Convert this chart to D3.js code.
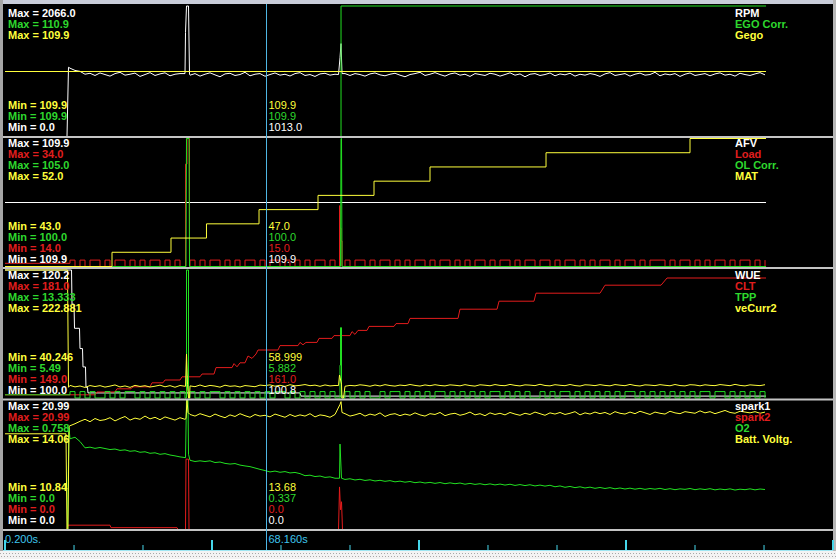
<!DOCTYPE html>
<html><head><meta charset="utf-8">
<script src="https://cdn.jsdelivr.net/npm/d3@7"></script>
<style>html,body{margin:0;padding:0;background:#000;overflow:hidden}</style>
</head><body><svg id="c" width="836" height="559"></svg>
<script>
// ---------------- DATA ----------------
const T0 = 0.2, DT = 1.3019;            // log start (s) and sample period (s)
const axisEnd = 215.79;                  // time at right edge of the view
const tickTimes = [0.2, 18.17, 36.13, 54.10, 72.06, 90.03, 108.0, 125.96, 143.93, 161.89, 179.86, 197.83, 215.79];
const cursorTime = 68.16;
const startLabel = "0.200s.", cursorLabel = "68.160s";

const seriesNames = [["RPM","EGO Corr.","Gego"],["AFV","Load","OL Corr.","MAT"],["WUE","CLT","TPP","veCurr2"],["spark1","spark2","O2","Batt. Voltg."]];
const seriesMin = [[0,109.9,109.9],[109.9,14,100,43],[100,149,5.49,40.246],[0,0,0,10.84]];
const seriesMax = [[2066,110.9,109.9],[109.9,34,105,52],[120.2,181,13.333,222.881],[20.99,20.99,0.758,14.06]];
const maxText = [["2066.0","110.9","109.9"],["109.9","34.0","105.0","52.0"],["120.2","181.0","13.333","222.881"],["20.99","20.99","0.758","14.06"]];
const minText = [["0.0","109.9","109.9"],["109.9","14.0","100.0","43.0"],["100.0","149.0","5.49","40.246"],["0.0","0.0","0.0","10.84"]];
const cursorText = [["1013.0","109.9","109.9"],["109.9","15.0","100.0","47.0"],["100.8","161.0","5.882","58.999"],["0.0","0.0","0.337","13.68"]];

// Panel 1
const rpm = [
0,0,0,0,0,0,0,0,0,0,
0,0,0,1085,1050,1035,990,1005,970,1010,
985,960,1000,1020,975,990,1008,955,985,1015,
970,995,1012,965,990,1000,1000,975,1000,960,
990,1012,980,950,995,1005,970,985,1020,965,
990,1000,958,985,1010,975,990,962,1000,1015,
970,985,955,995,1005,975,990,1250,1000,970,
1000,985,960,995,1010,980,965,990,1005,975,
950,985,1000,1020,970,990,1015,985,960,995,
1010,975,990,955,1000,985,970,1005,990,960,
985,1012,975,995,950,990,1000,970,985,1010,
965,995,980,1005,960,990,975,1000,985,955,
995,1015,970,985,1000,960,990,1008,975,985,
1020,965,995,980,1000,955,990,1010,970,985,
1000,965,995,1012,975,990,960,1005,985,970,
995,1015,980];
const rpmEvents = [[16.34,0],[16.73,1100],[47.20,1650],[47.46,2066],[47.98,2066],[48.24,990],[87.04,985],[87.69,1473],[87.95,1000]];
const egoCorrPts = [[0.2,109.9],[87.69,110.9],[198.35,110.9]];
const gegoPts = [[0.2,109.9],[198.35,109.9]];

// Panel 2
const afvPts = [[0.2,109.9],[198.35,109.9]];
const load = [
14.5,14.5,14.5,14.5,14.5,14.5,14.5,14.5,14.5,14.5,
14.5,14.5,14.5,15,14,15,14,15,15,14,
15,14,15,15,14,15,14,15,14,15,
15,14,15,14,15,14,14,15,14,15,
14,15,15,14,15,14,15,14,15,15,
14,15,14,15,15,14,15,14,15,14,
15,14,15,15,14,15,14,20,15,14,
15,15,14,15,14,15,15,14,15,14,
15,14,15,15,14,15,14,15,15,14,
15,14,15,14,15,15,14,15,14,15,
15,14,15,14,15,15,14,15,15,14,
15,14,15,15,14,15,14,15,14,15,
15,14,15,14,15,15,14,15,14,15,
15,15,14,15,14,15,15,14,15,14,
15,14,15,15,14,15,14,15,15,14,
15,14,15];
const loadEvents = [[47.20,30],[47.59,34],[48.11,34],[48.24,14],[87.04,14],[87.30,23.5],[87.69,18],[87.95,14]];
const olCorrPts = [[0.2,100],[47.33,100],[47.46,105],[48.11,105],[48.24,100],[87.56,100],[87.69,105],[87.82,105],[87.95,100],[198.35,100]];
const matPts = [[0.2,43],[28.06,44],[43.42,45],[52.66,46],[66.34,47],[81.70,48],[96.28,49],[110.86,50],[141.07,51],[178.56,52],[198.35,52]];

// Panel 3
const wuePts = [[0.2,120.2],[17.52,120.2],[17.65,114.8],[18.17,114.8],[18.30,111.0],[19.60,111.0],[19.73,107.8],[20.38,107.8],[20.51,104.9],[21.16,104.9],[21.29,101.7],[21.68,101.7],[21.81,100.8],[77.01,100.8],[77.27,100.3],[198.35,100.3]];
const cltPts = [[0.2,149.8],[23.63,149.8],[24.15,150.5],[28.84,150.5],[29.36,151.3],[33.01,151.3],[33.53,151.8],[37.96,151.8],[38.48,152.8],[41.34,152.8],[41.86,153.5],[45.77,153.5],[46.29,154.3],[50.97,154.3],[51.50,155.0],[54.62,155.0],[55.14,156.6],[59.31,156.6],[59.83,157.6],[60.61,156.8],[61.39,157.8],[62.69,157.8],[63.47,159.5],[64.51,158.9],[65.56,160.0],[66.08,161],[71.28,161],[71.80,162.1],[76.49,162.1],[77.01,162.9],[77.79,162.3],[78.57,162.9],[81.44,162.9],[81.96,163.9],[85.34,163.9],[85.86,164.6],[90.03,164.6],[90.55,165.6],[91.33,164.9],[92.11,165.9],[94.46,165.9],[94.98,166.9],[101.49,166.9],[102.01,167.6],[105.13,167.6],[105.65,168.9],[118.15,168.9],[118.67,171.2],[128.31,171.2],[128.83,173.2],[137.94,173.2],[138.46,175.2],[155.13,175.2],[156.43,177.2],[171.01,177.2],[172.57,179.0],[198.35,179.0]];
const tpp = [
5.686,5.686,5.686,5.686,5.686,5.686,5.686,5.686,5.686,5.686,
5.686,5.686,5.686,5.882,5.49,5.882,5.49,5.882,5.49,5.49,
5.882,5.49,5.882,5.49,5.882,5.882,5.49,5.882,5.49,5.882,
5.49,5.882,5.49,5.882,5.49,5.882,5.49,5.882,5.49,5.882,
5.49,5.882,5.882,5.49,5.882,5.49,5.882,5.49,5.882,5.49,
5.882,5.49,5.882,5.49,5.882,5.882,5.49,5.882,5.49,5.882,
5.49,5.882,5.49,5.882,5.49,5.882,5.49,7.5,5.882,5.49,
5.882,5.49,5.882,5.49,5.49,5.882,5.49,5.882,5.882,5.49,
5.882,5.49,5.882,5.49,5.882,5.49,5.882,5.882,5.49,5.882,
5.49,5.882,5.49,5.882,5.49,5.882,5.49,5.882,5.882,5.49,
5.882,5.49,5.882,5.49,5.882,5.49,5.49,5.882,5.49,5.882,
5.49,5.882,5.882,5.49,5.882,5.49,5.882,5.49,5.882,5.49,
5.882,5.49,5.882,5.49,5.882,5.882,5.49,5.882,5.49,5.882,
5.49,5.882,5.49,5.882,5.49,5.882,5.49,5.882,5.49,5.882,
5.882,5.49,5.882,5.882,5.49,5.882,5.49,5.882,5.49,5.882,
5.49,5.882,5.49];
const tppEvents = [[47.33,5.49],[47.46,13.333],[47.85,13.333],[47.98,5.49],[87.30,5.49],[87.56,9.8],[87.82,5.49]];
const veCurr2 = [
222.881,222.881,222.881,222.881,222.881,222.881,222.881,222.881,222.881,222.881,
222.881,222.881,222.881,58.2,56.1,57.4,55.3,58.0,56.6,57.9,
55.8,57.2,58.9,56.0,57.5,55.4,58.3,56.7,57.8,55.9,
57.1,58.6,56.2,57.9,55.6,58.1,57.0,57.5,56.4,58.8,
56.5,58.2,57.3,55.7,58.5,56.9,57.6,55.9,58.0,57.2,
56.3,58.7,57.9,59.0,57.1,58.4,56.8,59.2,57.6,58.3,
59.4,57.8,58.6,56.9,58.9,57.5,58.1,70.0,57.0,58.2,
57.6,59.1,58.3,57.0,58.8,57.4,59.3,58.0,57.2,58.7,
57.9,59.5,58.2,57.3,58.9,57.8,59.2,58.1,57.5,59.0,
58.4,57.6,59.3,58.0,57.2,59.1,58.5,57.7,59.4,58.2,
57.8,59.6,58.3,57.5,59.0,58.6,57.9,59.8,58.1,57.6,
59.2,58.4,57.8,59.5,58.0,57.3,59.1,58.7,57.9,59.3,
58.2,57.6,59.4,58.5,57.8,59.6,58.1,57.4,59.0,58.6,
57.9,59.3,58.4,57.7,59.5,58.0,57.5,59.2,58.8,57.6,
59.1,58.3,57.9,59.4,58.6,57.8,59.7,58.2,57.5,59.0,
58.4,57.9,59.2];
const veCurr2Events = [[16.47,222.881],[16.73,55.5],[47.20,57],[47.46,103],[47.72,60],[47.98,40.246],[48.24,40.246],[87.04,58],[87.30,73],[87.82,60],[87.95,40.246],[88.34,40.246]];

// Panel 4
const spark1Pts = [[0.2,0],[198.35,0]];
const spark2Pts = [[0.2,0],[16.34,0],[16.60,0.7],[27.54,0.7],[27.80,0.3],[44.99,0.3],[45.25,0],[47.20,0],[47.33,11.4],[47.98,11.4],[48.11,0],[87.04,0],[87.30,6.9],[87.56,3.2],[87.82,4.5],[88.08,0],[198.35,0]];
const o2 = [
0,0,0,0,0,0,0,0,0,0,
0,0,0,0.531,0.540,0.515,0.478,0.482,0.475,0.480,
0.474,0.468,0.471,0.463,0.466,0.458,0.461,0.452,0.455,0.446,
0.449,0.440,0.444,0.436,0.431,0.425,0.421,0.405,0.398,0.402,
0.398,0.402,0.392,0.395,0.387,0.383,0.386,0.377,0.372,0.368,
0.360,0.352,0.345,0.337,0.342,0.335,0.339,0.331,0.334,0.327,
0.315,0.318,0.310,0.313,0.305,0.308,0.300,0.500,0.293,0.297,
0.290,0.294,0.287,0.291,0.284,0.288,0.282,0.286,0.279,0.283,
0.277,0.281,0.274,0.278,0.272,0.276,0.270,0.275,0.268,0.273,
0.268,0.272,0.265,0.270,0.264,0.268,0.262,0.267,0.261,0.266,
0.260,0.265,0.258,0.263,0.257,0.262,0.255,0.260,0.254,0.259,
0.250,0.255,0.247,0.252,0.245,0.250,0.243,0.248,0.241,0.246,
0.240,0.245,0.238,0.243,0.237,0.242,0.236,0.241,0.235,0.240,
0.236,0.241,0.234,0.239,0.233,0.238,0.235,0.240,0.233,0.238,
0.234,0.239,0.232,0.237,0.233,0.238,0.231,0.236,0.233,0.238,
0.232,0.237,0.234];
const o2Events = [[16.47,0],[16.86,0.597],[47.20,0.42],[47.46,0.758],[47.85,0.758],[47.98,0.44],[87.30,0.30],[87.82,0.30]];
const batt = [
13.22,13.22,13.22,13.22,13.22,13.22,13.22,13.22,13.22,13.22,
13.22,13.22,13.22,13.42,13.47,13.53,13.58,13.52,13.60,13.55,
13.57,13.62,13.54,13.60,13.65,13.56,13.61,13.58,13.66,13.59,
13.63,13.57,13.64,13.60,13.56,13.62,13.58,13.70,13.66,13.72,
13.68,13.64,13.71,13.66,13.62,13.69,13.65,13.72,13.67,13.63,
13.70,13.66,13.68,13.64,13.71,13.67,13.63,13.70,13.65,13.69,
13.66,13.72,13.64,13.69,13.67,13.63,13.70,13.95,13.72,13.66,
13.69,13.73,13.66,13.71,13.68,13.74,13.65,13.70,13.72,13.67,
13.71,13.68,13.74,13.69,13.66,13.72,13.70,13.75,13.67,13.71,
13.73,13.68,13.71,13.76,13.69,13.72,13.67,13.74,13.70,13.73,
13.69,13.75,13.71,13.68,13.73,13.70,13.76,13.72,13.68,13.74,
13.71,13.75,13.70,13.73,13.77,13.69,13.74,13.71,13.76,13.72,
13.75,13.70,13.77,13.73,13.71,13.76,13.72,13.78,13.74,13.70,
13.76,13.73,13.71,13.78,13.74,13.72,13.77,13.75,13.73,13.79,
13.74,13.77,13.72,13.76,13.80,13.75,13.73,13.78,13.76,13.74,
13.77,13.73,13.76];
const battEvents = [[16.08,13.22],[16.34,10.84],[16.60,10.84],[16.86,13.40],[47.33,13.6],[47.59,14.06],[47.85,13.75],[87.69,14.02],[87.95,13.75]];

// ---------------- BUILD ----------------
function sampled(values, events) {
  const pts = values.map((v, i) => [T0 + i * DT, v]).concat(events);
  return pts.sort((a, b) => a[0] - b[0]);
}
const seriesData = [
  [sampled(rpm, rpmEvents), egoCorrPts, gegoPts],
  [afvPts, sampled(load, loadEvents), olCorrPts, matPts],
  [wuePts, cltPts, sampled(tpp, tppEvents), sampled(veCurr2, veCurr2Events)],
  [spark1Pts, spark2Pts, sampled(o2, o2Events), sampled(batt, battEvents)]
];
const step = d3.curveStepAfter, lin = d3.curveLinear;
const seriesCurve = [[lin, step, lin],[lin, step, lin, step],[lin, lin, step, lin],[lin, lin, lin, lin]];

const WHITE = "#ffffff", RED = "#e41c1c", GREEN = "#22e022", YELLOW = "#ffff3c";
const panelColors = [[WHITE, GREEN, YELLOW],[WHITE, RED, GREEN, YELLOW],[WHITE, RED, GREEN, YELLOW],[WHITE, RED, GREEN, YELLOW]];
const textColors = [[WHITE, "#2ed82e", YELLOW],[WHITE, "#e01e1e", "#2ed82e", YELLOW],[WHITE, "#e01e1e", "#2ed82e", YELLOW],[WHITE, "#e01e1e", "#2ed82e", YELLOW]];

// layout
const W = 836, H = 559;
const panelTop = [6, 138.5, 270, 400], panelBottom = [137, 266.5, 398, 529.5];
const maxBase = [16.5, 147, 278.5, 409.5], minLastBase = [131, 263, 394, 524], rowStep = 11;
const FONT = "'Liberation Sans', Arial, Helvetica, sans-serif";

const svg = d3.select("#c");
svg.append("rect").attr("width", W).attr("height", H).attr("fill", "#000");

const x = d3.scaleLinear().domain([T0, axisEnd]).range([5, 833]);

// data lines
seriesData.forEach((panel, p) => {
  const g = svg.append("g");
  panel.forEach((pts, s) => {
    const mn = seriesMin[p][s], mx = seriesMax[p][s];
    const y = d3.scaleLinear().domain(mn === mx ? [mn - 1, mx + 1] : [mn, mx]).range([panelBottom[p], panelTop[p]]);
    const line = d3.line().x(d => x(d[0])).y(d => y(d[1])).curve(seriesCurve[p][s]);
    g.append("path").datum(pts).attr("d", line).attr("fill", "none")
      .attr("stroke", panelColors[p][s]).attr("stroke-width", 1);
  });
});

// frame
svg.append("rect").attr("x", 0).attr("y", 0).attr("width", W).attr("height", 4).attr("fill", "#c9cdd9");
svg.append("rect").attr("x", 0).attr("y", 0).attr("width", 3).attr("height", 551).attr("fill", "#a6a6a6");
svg.append("rect").attr("x", 833).attr("y", 0).attr("width", 3).attr("height", 551).attr("fill", "#b6b6b6");
svg.append("rect").attr("x", 0).attr("y", 551).attr("width", W).attr("height", 8).attr("fill", "#f3f3f3");
[553.5, 556.5].forEach((yy, i) => svg.append("line").attr("x1", i ? 1 : 0).attr("x2", W).attr("y1", yy).attr("y2", yy)
  .attr("stroke", "#a8a8a8").attr("stroke-width", 1).attr("stroke-dasharray", "1,2"));
// separators (drawn over the traces)
[136, 267, 398.5, 529].forEach(yy => svg.append("rect").attr("x", 3).attr("y", yy).attr("width", 830).attr("height", 2).attr("fill", "#c4c4c4"));

// time axis
const axisG = svg.append("g");
axisG.append("line").attr("x1", 3).attr("x2", 833).attr("y1", 550.5).attr("y2", 550.5).attr("stroke", "#9fe6f2").attr("stroke-width", 1);
tickTimes.forEach((t, i) => {
  const major = i % 3 === 0;
  axisG.append("line").attr("x1", x(t)).attr("x2", x(t)).attr("y1", major ? 540 : 545).attr("y2", 550)
    .attr("stroke", "#46d6ea").attr("stroke-width", major ? 2 : 1);
});
axisG.append("text").attr("x", 5).attr("y", 542.5).text(startLabel)
  .attr("fill", "#3ec6ee").attr("font-family", FONT).attr("font-size", 11);

// cursor
const cx = Math.round(x(cursorTime)) + 0.5;
svg.append("line").attr("x1", cx).attr("x2", cx).attr("y1", 4).attr("y2", 550).attr("stroke", "#4eb6e4").attr("stroke-width", 1);
svg.append("text").attr("x", cx + 2).attr("y", 542.5).text(cursorLabel)
  .attr("fill", "#3ec6ee").attr("font-family", FONT).attr("font-size", 11);

// labels
seriesNames.forEach((names, p) => {
  names.forEach((nm, s) => {
    const col = textColors[p][s];
    svg.append("text").attr("x", 8).attr("y", maxBase[p] + s * rowStep).text("Max = " + maxText[p][s])
      .attr("fill", col).attr("font-family", FONT).attr("font-size", 11).attr("font-weight", "bold");
    svg.append("text").attr("x", 735).attr("y", maxBase[p] + s * rowStep).text(nm)
      .attr("fill", col).attr("font-family", FONT).attr("font-size", 11).attr("font-weight", "bold");
    const rowY = minLastBase[p] - s * rowStep;
    svg.append("text").attr("x", 8).attr("y", rowY).text("Min = " + minText[p][s])
      .attr("fill", col).attr("font-family", FONT).attr("font-size", 11).attr("font-weight", "bold");
    svg.append("text").attr("x", cx + 2).attr("y", rowY).text(cursorText[p][s])
      .attr("fill", col).attr("font-family", FONT).attr("font-size", 11);
  });
});
</script></body></html>
